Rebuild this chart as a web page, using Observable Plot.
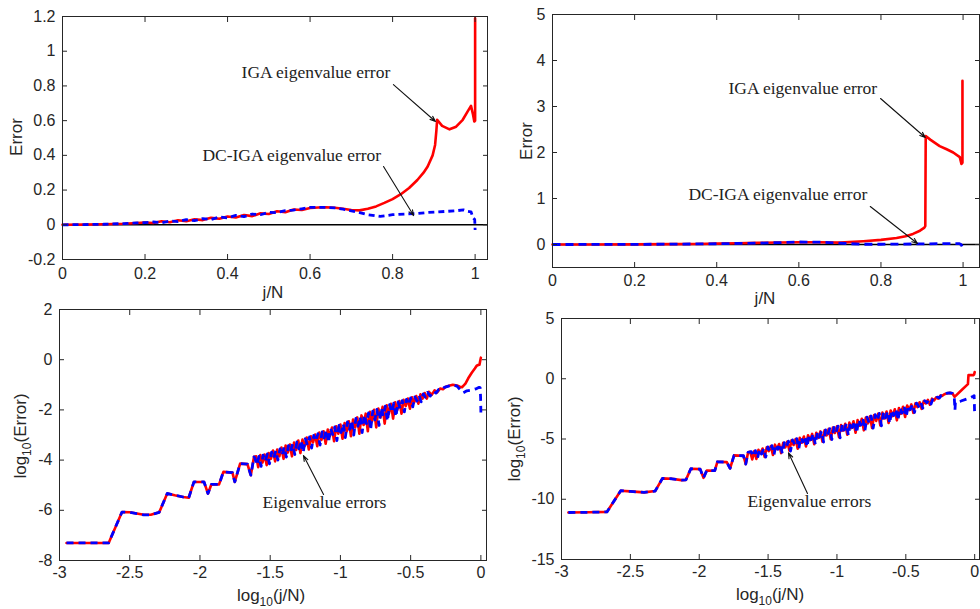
<!DOCTYPE html>
<html><head><meta charset="utf-8">
<script src="https://cdn.jsdelivr.net/npm/d3@7"></script>
<script src="https://cdn.jsdelivr.net/npm/@observablehq/plot@0.6"></script>
<style>
body{margin:0;background:#fff;}
#fig{position:relative;width:980px;height:609px;overflow:hidden;font-family:"Liberation Sans",Arial,sans-serif;color:#262626;background:#fff;}
.panel{position:absolute;}
.lab{position:absolute;font-size:17px;white-space:nowrap;line-height:1;}
.lab sub{font-size:12px;vertical-align:-5px;line-height:0;}
.rot{transform:translate(-50%,-50%) rotate(-90deg);}
.hor{transform:translate(-50%,-50%);}
</style></head><body><div id="fig"></div>
<script>
// ---------- tick values ----------
const ticksLinX = [0, 0.2, 0.4, 0.6, 0.8, 1];
const ticksErr1 = [-0.2, 0, 0.2, 0.4, 0.6, 0.8, 1, 1.2];
const ticksErr2 = [0, 1, 2, 3, 4, 5];
const ticksLogX = [-3, -2.5, -2, -1.5, -1, -0.5, 0];
const ticksLog1 = [-8, -6, -4, -2, 0, 2];
const ticksLog2 = [-15, -10, -5, 0, 5];

// ---------- panel 1 (j/N, Error) ----------
const igaLin1 = [[0,0],[0.05,0.001],[0.1,0.003],[0.15,0.006],[0.18,0.01],[0.2,0.013],[0.22,0.01],[0.24,0.02],[0.26,0.015],[0.28,0.026],[0.3,0.02],[0.32,0.032],[0.34,0.027],[0.36,0.04],[0.38,0.035],[0.4,0.048],[0.42,0.042],[0.44,0.056],[0.46,0.05],[0.48,0.066],[0.5,0.062],[0.52,0.078],[0.54,0.072],[0.56,0.088],[0.58,0.085],[0.6,0.097],[0.62,0.1],[0.64,0.101],[0.66,0.098],[0.68,0.092],[0.7,0.085],[0.72,0.083],[0.74,0.092],[0.76,0.106],[0.78,0.126],[0.8,0.148],[0.82,0.176],[0.84,0.212],[0.86,0.258],[0.875,0.3],[0.885,0.336],[0.897,0.4],[0.903,0.46],[0.906,0.54],[0.908,0.605],[0.92,0.57],[0.938,0.55],[0.954,0.565],[0.97,0.605],[0.982,0.653],[0.99,0.685],[0.995,0.634],[0.998,0.595],[1.0,0.6],[1.0,1.19]];
const dcLin1 = [[0,0],[0.05,0.001],[0.1,0.003],[0.15,0.007],[0.18,0.011],[0.2,0.012],[0.22,0.016],[0.24,0.012],[0.26,0.022],[0.28,0.018],[0.3,0.03],[0.32,0.024],[0.34,0.036],[0.36,0.03],[0.38,0.045],[0.4,0.04],[0.42,0.054],[0.44,0.047],[0.46,0.062],[0.48,0.058],[0.5,0.072],[0.52,0.07],[0.54,0.082],[0.56,0.085],[0.58,0.092],[0.6,0.1],[0.62,0.1],[0.64,0.1],[0.66,0.097],[0.68,0.09],[0.7,0.08],[0.72,0.07],[0.74,0.058],[0.77,0.048],[0.8,0.058],[0.83,0.062],[0.86,0.065],[0.885,0.071],[0.91,0.074],[0.935,0.078],[0.958,0.082],[0.972,0.086],[0.982,0.078],[0.99,0.075],[0.995,0.04],[0.999,0.03],[1.0,-0.03]];

// ---------- panel 2 (j/N, Error) ----------
const igaLin2 = [[0,0],[0.1,0.001],[0.2,0.003],[0.3,0.008],[0.35,0.012],[0.4,0.018],[0.45,0.026],[0.5,0.035],[0.55,0.045],[0.6,0.05],[0.65,0.048],[0.7,0.04],[0.757,0.07],[0.8,0.1],[0.838,0.14],[0.86,0.18],[0.878,0.23],[0.895,0.3],[0.905,0.36],[0.908,0.4],[0.909,2.36],[0.92,2.28],[0.943,2.14],[0.96,2.07],[0.976,2.0],[0.992,1.9],[0.996,1.75],[0.9985,1.78],[0.9985,3.56]];
const dcLin2 = [[0,0],[0.1,0.001],[0.2,0.003],[0.3,0.008],[0.4,0.016],[0.5,0.03],[0.55,0.04],[0.6,0.055],[0.65,0.05],[0.7,0.03],[0.75,0.005],[0.8,0.005],[0.85,0.01],[0.9,0.012],[0.95,0.02],[0.99,0.02],[0.995,0.0],[1.0,-0.08]];

// ---------- panel 3 (log10 j/N, log10 Error) ----------
const stairLog1 = [[-2.95,-7.3],[-2.8,-7.3],[-2.65,-7.3],[-2.555,-6.07],[-2.5,-6.08],[-2.45,-6.13],[-2.4,-6.18],[-2.35,-6.18],[-2.29,-6.08],[-2.233,-5.33],[-2.18,-5.4],[-2.12,-5.47],[-2.08,-5.5],[-2.043,-4.87],[-1.971,-4.87],[-1.943,-5.33],[-1.919,-4.97],[-1.864,-4.97],[-1.833,-4.47],[-1.769,-4.5],[-1.752,-4.87],[-1.714,-4.14],[-1.662,-4.16],[-1.638,-4.6],[-1.615,-3.87]];
const igaBand1 = [[-1.6,-3.85],[-1.585,-4.28],[-1.57,-3.8],[-1.555,-4.1],[-1.54,-3.78],[-1.525,-4.2],[-1.51,-3.72],[-1.495,-3.95],[-1.48,-3.62],[-1.465,-4.05],[-1.45,-3.58],[-1.435,-3.85],[-1.42,-3.5],[-1.405,-3.95],[-1.39,-3.42],[-1.375,-3.7],[-1.36,-3.38],[-1.345,-3.85],[-1.33,-3.3],[-1.315,-3.6],[-1.3,-3.22],[-1.285,-3.72],[-1.27,-3.18],[-1.255,-3.45],[-1.24,-3.1],[-1.225,-3.58],[-1.21,-3.05],[-1.195,-3.3],[-1.18,-2.98],[-1.165,-3.45],[-1.15,-2.9],[-1.135,-3.2],[-1.12,-2.85],[-1.105,-3.35],[-1.09,-2.78],[-1.075,-3.05],[-1.06,-2.7],[-1.045,-3.25],[-1.03,-2.65],[-1.015,-2.95],[-1.0,-2.58],[-0.985,-3.15],[-0.97,-2.52],[-0.955,-2.85],[-0.94,-2.45],[-0.925,-3.05],[-0.91,-2.38],[-0.895,-2.7],[-0.88,-2.3],[-0.865,-2.95],[-0.85,-2.22],[-0.835,-2.6],[-0.82,-2.15],[-0.805,-2.85],[-0.79,-2.08],[-0.775,-2.45],[-0.76,-2.0],[-0.745,-2.7],[-0.73,-1.95],[-0.715,-2.3],[-0.7,-1.88],[-0.685,-2.55],[-0.67,-1.82],[-0.655,-2.15],[-0.64,-1.76],[-0.625,-2.35],[-0.61,-1.7],[-0.595,-2.0],[-0.58,-1.65],[-0.565,-2.15],[-0.55,-1.6],[-0.535,-1.85],[-0.52,-1.55],[-0.505,-1.95],[-0.49,-1.5],[-0.475,-1.7],[-0.46,-1.45],[-0.445,-1.75],[-0.43,-1.38],[-0.415,-1.55],[-0.4,-1.33],[-0.385,-1.55],[-0.37,-1.28],[-0.35,-1.4],[-0.33,-1.22],[-0.31,-1.3],[-0.29,-1.15],[-0.27,-1.18],[-0.25,-1.08],[-0.22,-1.03],[-0.2,-1.0]];
const dcBand1 = [[-1.61,-3.9],[-1.595,-4.2],[-1.58,-3.85],[-1.565,-4.25],[-1.55,-3.8],[-1.535,-4.05],[-1.52,-3.75],[-1.505,-4.15],[-1.49,-3.68],[-1.475,-3.92],[-1.46,-3.62],[-1.445,-4.0],[-1.43,-3.55],[-1.415,-3.8],[-1.4,-3.48],[-1.385,-3.88],[-1.37,-3.42],[-1.355,-3.65],[-1.34,-3.36],[-1.325,-3.78],[-1.31,-3.28],[-1.295,-3.55],[-1.28,-3.22],[-1.265,-3.7],[-1.25,-3.15],[-1.235,-3.4],[-1.22,-3.08],[-1.205,-3.52],[-1.19,-3.02],[-1.175,-3.25],[-1.16,-2.95],[-1.145,-3.4],[-1.13,-2.88],[-1.115,-3.12],[-1.1,-2.8],[-1.085,-3.3],[-1.07,-2.74],[-1.055,-2.98],[-1.04,-2.68],[-1.025,-3.22],[-1.01,-2.62],[-0.995,-2.9],[-0.98,-2.55],[-0.965,-3.1],[-0.95,-2.48],[-0.935,-2.78],[-0.92,-2.42],[-0.905,-3.0],[-0.89,-2.34],[-0.875,-2.65],[-0.86,-2.27],[-0.845,-2.9],[-0.83,-2.2],[-0.815,-2.55],[-0.8,-2.12],[-0.785,-2.8],[-0.77,-2.05],[-0.755,-2.4],[-0.74,-1.98],[-0.725,-2.62],[-0.71,-1.92],[-0.695,-2.25],[-0.68,-1.85],[-0.665,-2.45],[-0.65,-1.79],[-0.635,-2.1],[-0.62,-1.73],[-0.605,-2.28],[-0.59,-1.68],[-0.575,-1.95],[-0.56,-1.63],[-0.545,-2.08],[-0.53,-1.58],[-0.515,-1.8],[-0.5,-1.52],[-0.485,-1.88],[-0.47,-1.48],[-0.455,-1.65],[-0.44,-1.42],[-0.425,-1.68],[-0.41,-1.36],[-0.395,-1.5],[-0.38,-1.3],[-0.36,-1.45],[-0.34,-1.25],[-0.32,-1.33],[-0.3,-1.18],[-0.28,-1.2],[-0.26,-1.1],[-0.23,-1.05],[-0.2,-1.0]];
const igaTail1 = [[-0.17,-1.03],[-0.15,-1.08],[-0.135,-1.1],[-0.11,-0.95],[-0.09,-0.74],[-0.065,-0.52],[-0.043,-0.35],[-0.03,-0.24],[-0.019,-0.21],[-0.01,-0.2],[-0.005,-0.05],[0,0.08]];
const dcTail1 = [[-0.17,-1.05],[-0.14,-1.25],[-0.126,-1.32],[-0.1,-1.24],[-0.06,-1.2],[-0.03,-1.15],[-0.012,-1.1],[-0.005,-1.12],[-0.002,-1.5],[0,-2.1]];

// ---------- panel 4 (log10 j/N, log10 Error) ----------
const stairLog2 = [[-2.95,-11.1],[-2.8,-11.08],[-2.67,-11.05],[-2.57,-9.29],[-2.5,-9.35],[-2.4,-9.43],[-2.32,-9.32],[-2.267,-8.27],[-2.2,-8.3],[-2.13,-8.41],[-2.097,-8.4],[-2.061,-7.47],[-1.993,-7.5],[-1.969,-8.22],[-1.945,-7.61],[-1.887,-7.63],[-1.868,-6.89],[-1.8,-6.92],[-1.776,-7.44],[-1.747,-6.36],[-1.679,-6.39],[-1.662,-7.08],[-1.645,-6.1]];
const igaBand2 = [[-1.63,-6.06],[-1.615,-6.7],[-1.6,-6.0],[-1.585,-6.65],[-1.57,-5.9],[-1.555,-6.2],[-1.54,-5.79],[-1.525,-6.49],[-1.51,-5.69],[-1.495,-6.0],[-1.48,-5.58],[-1.465,-6.32],[-1.45,-5.47],[-1.435,-5.85],[-1.42,-5.42],[-1.405,-6.17],[-1.39,-5.32],[-1.375,-5.7],[-1.36,-5.21],[-1.345,-5.98],[-1.33,-5.1],[-1.315,-5.5],[-1.3,-5.0],[-1.285,-5.8],[-1.27,-4.9],[-1.255,-5.3],[-1.24,-4.79],[-1.225,-5.62],[-1.21,-4.69],[-1.195,-5.1],[-1.18,-4.58],[-1.165,-5.43],[-1.15,-4.48],[-1.135,-4.9],[-1.12,-4.37],[-1.105,-5.22],[-1.09,-4.27],[-1.075,-4.7],[-1.06,-4.16],[-1.045,-5.02],[-1.03,-4.06],[-1.015,-4.5],[-1.0,-3.95],[-0.985,-4.85],[-0.97,-3.85],[-0.955,-4.3],[-0.94,-3.74],[-0.925,-4.65],[-0.91,-3.64],[-0.895,-4.1],[-0.88,-3.53],[-0.865,-4.48],[-0.85,-3.43],[-0.835,-3.9],[-0.82,-3.32],[-0.805,-4.28],[-0.79,-3.22],[-0.775,-3.7],[-0.76,-3.11],[-0.745,-4.08],[-0.73,-3.01],[-0.715,-3.5],[-0.7,-2.9],[-0.685,-3.88],[-0.67,-2.81],[-0.655,-3.3],[-0.64,-2.72],[-0.625,-3.67],[-0.61,-2.63],[-0.595,-3.1],[-0.58,-2.53],[-0.565,-3.45],[-0.55,-2.43],[-0.535,-2.9],[-0.52,-2.32],[-0.505,-3.17],[-0.49,-2.22],[-0.475,-2.6],[-0.46,-2.13],[-0.445,-2.83],[-0.43,-2.04],[-0.415,-2.35],[-0.4,-1.95],[-0.385,-2.5],[-0.37,-1.85],[-0.355,-2.05],[-0.34,-1.75],[-0.325,-2.15],[-0.31,-1.65],[-0.295,-1.8],[-0.28,-1.55],[-0.265,-1.65],[-0.25,-1.4],[-0.235,-1.42],[-0.22,-1.28],[-0.2,-1.2]];
const dcBand2 = [[-1.622,-6.05],[-1.607,-6.45],[-1.592,-5.97],[-1.577,-6.6],[-1.562,-5.87],[-1.547,-6.25],[-1.532,-5.77],[-1.517,-6.5],[-1.502,-5.66],[-1.487,-6.05],[-1.472,-5.55],[-1.457,-6.3],[-1.442,-5.45],[-1.427,-5.85],[-1.412,-5.4],[-1.397,-6.2],[-1.382,-5.3],[-1.367,-5.65],[-1.352,-5.18],[-1.337,-6.0],[-1.322,-5.08],[-1.307,-5.45],[-1.292,-4.97],[-1.277,-5.8],[-1.262,-4.87],[-1.247,-5.25],[-1.232,-4.77],[-1.217,-5.65],[-1.202,-4.66],[-1.187,-5.05],[-1.172,-4.56],[-1.157,-5.45],[-1.142,-4.45],[-1.127,-4.85],[-1.112,-4.35],[-1.097,-5.25],[-1.082,-4.24],[-1.067,-4.65],[-1.052,-4.14],[-1.037,-5.05],[-1.022,-4.03],[-1.007,-4.45],[-0.992,-3.93],[-0.977,-4.9],[-0.962,-3.82],[-0.947,-4.25],[-0.932,-3.72],[-0.917,-4.7],[-0.902,-3.61],[-0.887,-4.05],[-0.872,-3.51],[-0.857,-4.5],[-0.842,-3.4],[-0.827,-3.85],[-0.812,-3.3],[-0.797,-4.3],[-0.782,-3.19],[-0.767,-3.65],[-0.752,-3.09],[-0.737,-4.1],[-0.722,-2.98],[-0.707,-3.45],[-0.692,-2.88],[-0.677,-3.9],[-0.662,-2.79],[-0.647,-3.25],[-0.632,-2.7],[-0.617,-3.7],[-0.602,-2.6],[-0.587,-3.05],[-0.572,-2.51],[-0.557,-3.45],[-0.542,-2.4],[-0.527,-2.85],[-0.512,-2.3],[-0.497,-3.15],[-0.482,-2.2],[-0.467,-2.55],[-0.452,-2.11],[-0.437,-2.8],[-0.422,-2.02],[-0.407,-2.3],[-0.392,-1.93],[-0.377,-2.45],[-0.362,-1.83],[-0.347,-2.0],[-0.332,-1.73],[-0.317,-2.1],[-0.302,-1.63],[-0.287,-1.75],[-0.272,-1.52],[-0.257,-1.6],[-0.242,-1.38],[-0.227,-1.4],[-0.2,-1.2]];
const igaTail2 = [[-0.18,-1.17],[-0.162,-1.2],[-0.146,-1.5],[-0.1,-1.0],[-0.049,-0.45],[-0.045,0.3],[-0.01,0.3],[-0.004,0.35],[0,0.55]];
const dcTail2 = [[-0.18,-1.17],[-0.162,-1.22],[-0.148,-1.6],[-0.143,-2.6],[-0.14,-1.95],[-0.1,-1.85],[-0.05,-1.65],[-0.01,-1.45],[-0.004,-1.4],[-0.002,-2.2],[0,-3.1]];

// ---------- annotations ----------
const notes1 = [{x:0.434, y:0.843, t:"IGA eigenvalue error"}, {x:0.339, y:0.370, t:"DC-IGA eigenvalue error"}];
const arrows1 = [{x1:0.802, y1:0.808, x2:0.904, y2:0.595}, {x1:0.778, y1:0.336, x2:0.851, y2:0.053}];
const notes2 = [{x:0.4286, y:3.28, t:"IGA eigenvalue error"}, {x:0.331, y:0.978, t:"DC-IGA eigenvalue error"}];
const arrows2 = [{x1:0.799, y1:3.174, x2:0.908, y2:2.326}, {x1:0.774, y1:0.826, x2:0.889, y2:0.022}];
const notes3 = [{x:-1.555, y:-5.89, t:"Eigenvalue errors"}];
const arrows3 = [{x1:-1.12, y1:-5.37, x2:-1.263, y2:-3.82}];
const notes4 = [{x:-1.65, y:-10.68, t:"Eigenvalue errors"}];
const arrows4 = [{x1:-1.214, y1:-9.52, x2:-1.352, y2:-6.15}];

const RED = "#ff0000", BLUE = "#0000ff", INK = "#262626";
const fig = document.getElementById("fig");

function panel(o) {
  const marks = [];
  if (o.zero) marks.push(Plot.ruleY([0], {stroke: "#000", strokeWidth: 1.4}));
  for (const s of o.series) {
    marks.push(Plot.line(s.data, {x: d => d[0], y: d => d[1], stroke: s.color, strokeWidth: s.dash ? 2.8 : 2.6,
      strokeDasharray: s.dash, strokeLinejoin: "round", strokeLinecap: s.dash ? "butt" : "round"}));
  }
  marks.push(Plot.frame({stroke: INK, strokeWidth: 1}));
  const blank = () => "";
  marks.push(Plot.axisX(o.xTicks, {anchor: "bottom", tickSize: 5, dy: -5, tickFormat: blank, label: null, stroke: INK}));
  marks.push(Plot.axisX(o.xTicks, {anchor: "top", tickSize: 5, dy: 5, tickFormat: blank, label: null, stroke: INK}));
  marks.push(Plot.axisY(o.yTicks, {anchor: "left", tickSize: 5, dx: 5, tickFormat: blank, label: null, stroke: INK}));
  marks.push(Plot.axisY(o.yTicks, {anchor: "right", tickSize: 5, dx: -5, tickFormat: blank, label: null, stroke: INK}));
  marks.push(Plot.axisX(o.xTicks, {anchor: "bottom", tickSize: 0, tickPadding: o.xPad, tickFormat: d => String(d), label: null, fill: INK}));
  marks.push(Plot.axisY(o.yTicks, {anchor: "left", tickSize: 0, tickPadding: 7, tickFormat: d => String(d), label: null, fill: INK}));
  marks.push(Plot.arrow(o.arrows, {x1: "x1", y1: "y1", x2: "x2", y2: "y2", stroke: "#111", strokeWidth: 1.1, headLength: 8, headAngle: 40}));
  marks.push(Plot.text(o.notes, {x: "x", y: "y", text: "t", textAnchor: "start", lineAnchor: "bottom",
    fontFamily: "'Liberation Serif', 'Times New Roman', serif", fontSize: 17.5, fill: "#222"}));
  const svg = Plot.plot({
    width: o.w, height: o.h,
    marginLeft: o.mL, marginRight: o.mR, marginTop: o.mT, marginBottom: o.mB,
    x: {domain: o.xDom, axis: null},
    y: {domain: o.yDom, axis: null},
    style: {fontFamily: "'Liberation Sans', Arial, sans-serif", fontSize: "16px", color: INK, background: "transparent", overflow: "visible"},
    marks
  });
  const wrap = document.createElement("div");
  wrap.className = "panel";
  wrap.style.left = o.left + "px";
  wrap.style.top = o.top + "px";
  wrap.appendChild(svg);
  fig.appendChild(wrap);
}

function label(html, cx, cy, rotated) {
  const d = document.createElement("div");
  d.className = "lab " + (rotated ? "rot" : "hor");
  d.style.left = cx + "px";
  d.style.top = cy + "px";
  d.innerHTML = html;
  fig.appendChild(d);
}

panel({left: 0, top: 0, w: 490, h: 300, mL: 62, mR: 3, mT: 16, mB: 41, xPad: 8,
  xDom: [0, 1.03], yDom: [-0.2, 1.2], xTicks: ticksLinX, yTicks: ticksErr1, zero: true,
  series: [{data: igaLin1, color: RED}, {data: dcLin1, color: BLUE, dash: "6,4"}],
  notes: notes1, arrows: arrows1});
panel({left: 490, top: 0, w: 490, h: 300, mL: 62, mR: 1, mT: 14, mB: 33, xPad: 7,
  xDom: [0, 1.04], yDom: [-0.5, 5], xTicks: ticksLinX, yTicks: ticksErr2, zero: true,
  series: [{data: igaLin2, color: RED}, {data: dcLin2, color: BLUE, dash: "8,5"}],
  notes: notes2, arrows: arrows2});
panel({left: 0, top: 300, w: 490, h: 309, mL: 59, mR: 4, mT: 9, mB: 49, xPad: 6,
  xDom: [-3, 0.04], yDom: [-8, 2], xTicks: ticksLogX, yTicks: ticksLog1, zero: false,
  series: [{data: stairLog1.concat(igaBand1, igaTail1), color: RED},
           {data: stairLog1.concat(dcBand1, dcTail1), color: BLUE, dash: "7,5"}],
  notes: notes3, arrows: arrows3});
panel({left: 490, top: 300, w: 490, h: 309, mL: 71, mR: 1, mT: 18, mB: 50, xPad: 6,
  xDom: [-3, 0.035], yDom: [-15, 5], xTicks: ticksLogX, yTicks: ticksLog2, zero: false,
  series: [{data: stairLog2.concat(igaBand2, igaTail2), color: RED},
           {data: stairLog2.concat(dcBand2, dcTail2), color: BLUE, dash: "7,5"}],
  notes: notes4, arrows: arrows4});

label("Error", 16, 137, true);
label("j/N", 273, 292, false);
label("Error", 526, 141, true);
label("j/N", 765, 298, false);
label("log<sub>10</sub>(Error)", 20, 436, true);
label("log<sub>10</sub>(j/N)", 271, 595, false);
label("log<sub>10</sub>(Error)", 514, 439, true);
label("log<sub>10</sub>(j/N)", 770, 594, false);
</script></body></html>
